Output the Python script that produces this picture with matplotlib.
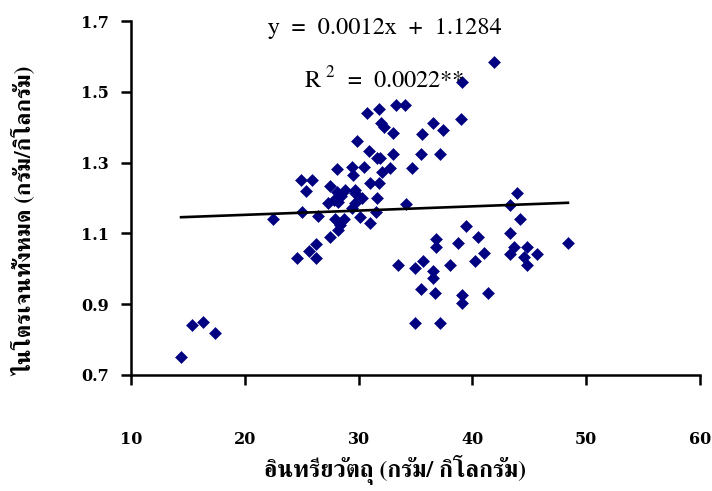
import numpy as np
import matplotlib
matplotlib.use('Agg')
import matplotlib.pyplot as plt

# organic matter (g/kg) vs total nitrogen (g/kg)
organic_matter = [14.4, 15.4, 16.3, 17.4,
                  22.5, 24.6, 25.0, 24.9, 25.9, 25.4, 25.6, 26.3, 26.3, 26.4, 27.5,
                  27.5, 27.3, 27.8, 28.2, 28.1, 28.5, 28.8, 28.1, 27.9, 28.7, 28.4,
                  28.2, 29.5, 29.4, 29.7, 29.7, 29.7, 29.4, 30.3, 30.1, 30.5, 29.9,
                  30.7, 30.9, 31.0, 31.8, 31.0, 31.5, 31.6, 31.6, 31.9, 31.8, 32.0,
                  32.2, 32.1, 32.8, 33.0, 33.0, 33.3, 34.1, 34.7, 34.2, 35.6, 35.5,
                  36.5, 37.4, 37.2, 39.0, 39.1, 41.9, 43.9, 43.3, 44.2, 43.3, 39.4,
                  40.5, 36.8, 36.8, 38.7, 43.7, 44.8, 45.7, 43.3, 44.5, 44.8, 41.0,
                  40.2, 38.0, 33.5, 35.7, 35.0, 36.5, 36.5, 35.5, 36.7, 39.1, 39.1,
                  41.4, 35.0, 37.2, 48.4]
total_nitrogen = [0.75, 0.84, 0.85, 0.82,
                  1.14, 1.03, 1.16, 1.25, 1.25, 1.22, 1.05, 1.07, 1.03, 1.15, 1.09,
                  1.235, 1.185, 1.195, 1.19, 1.218, 1.205, 1.224, 1.283, 1.142, 1.142, 1.124,
                  1.11, 1.265, 1.287, 1.224, 1.213, 1.185, 1.171, 1.199, 1.147, 1.287, 1.362,
                  1.441, 1.333, 1.243, 1.243, 1.13, 1.16, 1.199, 1.314, 1.312, 1.451, 1.413,
                  1.401, 1.274, 1.284, 1.383, 1.323, 1.462, 1.462, 1.284, 1.183, 1.381, 1.323,
                  1.413, 1.392, 1.323, 1.422, 1.529, 1.583, 1.213, 1.181, 1.14, 1.102, 1.121,
                  1.09, 1.083, 1.061, 1.073, 1.062, 1.062, 1.042, 1.042, 1.032, 1.011, 1.044,
                  1.023, 1.011, 1.011, 1.023, 1.001, 0.993, 0.973, 0.943, 0.932, 0.926, 0.902,
                  0.932, 0.848, 0.848, 1.072]

slope, intercept = 0.0012, 1.1284
eq_text = 'y = 0.0012x + 1.1284'
r2_text = r'R$^{2}$ = 0.0022**'
x_ticks = [10, 20, 30, 40, 50, 60]
y_ticks = [0.7, 0.9, 1.1, 1.3, 1.5, 1.7]
x_title = 'อินทรียวัตถุ (กรัม/ กิโลกรัม)'
y_title = 'ไนโตรเจนทั้งหมด (กรัม/กิโลกรัม)'

thai_family = ['FreeSerif', 'Loma', 'DejaVu Sans']
plt.rcParams['mathtext.fontset'] = 'custom'
plt.rcParams['mathtext.rm'] = 'FreeSerif'

fig = plt.figure(figsize=(7.12, 4.91), dpi=100)
ax = fig.add_axes([0.184, 0.2363, 0.799, 0.7209])

ax.plot(organic_matter, total_nitrogen, 'D', color='#000080', markersize=6,
        markeredgewidth=0.4, zorder=3)
xl = np.array([min(organic_matter), max(organic_matter)])
ax.plot(xl, slope * xl + intercept, '-', color='black', linewidth=1.9, zorder=4)

ax.set_xlim(10, 60)
ax.set_ylim(0.7, 1.7)
ax.set_xticks(x_ticks)
ax.set_yticks(y_ticks)
ax.set_xticklabels([str(v) for v in x_ticks], family=['DejaVu Serif'], fontweight='bold', fontsize=11.5)
ax.set_yticklabels(['%.1f' % v for v in y_ticks], family=['DejaVu Serif'], fontweight='bold', fontsize=11.5)
for s in ['top', 'right']:
    ax.spines[s].set_visible(False)
for s in ['left', 'bottom']:
    ax.spines[s].set_linewidth(1.8)
ax.tick_params(axis='both', direction='out', length=7, width=1.8)
ax.tick_params(axis='x', pad=33)
ax.tick_params(axis='y', pad=9)

ax.text(0.446, 0.98, 'y  =  0.0012x  +  1.1284', transform=ax.transAxes, ha='center', va='center',
        family='FreeSerif', fontsize=17.5)
ax.text(0.445, 0.833, r'R$^{\ 2}$  =  0.0022**', transform=ax.transAxes, ha='center', va='center',
        family='FreeSerif', fontsize=17.5)

fig.text(0.555, 0.042, x_title, ha='center', va='center', family=thai_family,
         fontsize=17, fontweight='bold')
fig.text(0.035, 0.55, y_title, ha='center', va='center', rotation=90,
         family=thai_family, fontsize=16.5, fontweight='bold')

fig.savefig('out.png', dpi=100)
